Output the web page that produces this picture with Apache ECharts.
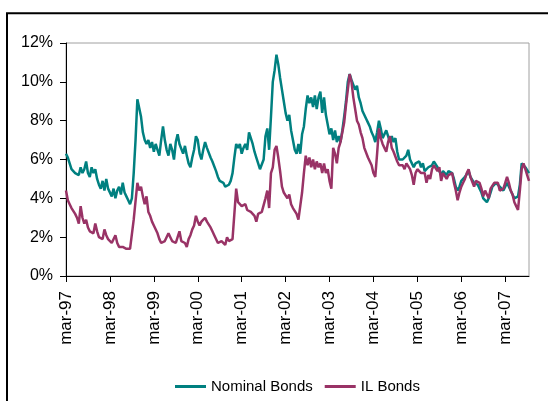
<!DOCTYPE html>
<html>
<head>
<meta charset="utf-8">
<script src="https://cdn.jsdelivr.net/npm/echarts@6/dist/echarts.min.js"></script>
<style>
  html, body { margin: 0; padding: 0; background: #fff; }
  #chart { width: 548px; height: 401px; }
</style>
</head>
<body>
<div id="chart"></div>
<script>
// Yields (%), semi-monthly observations starting March 1997
const tickLabels = ['mar-97','mar-98','mar-99','mar-00','mar-01','mar-02','mar-03','mar-04','mar-05','mar-06','mar-07'];
const seriesNames = ['Nominal Bonds', 'IL Bonds'];

const nominalBonds = [
  6.3,6.1,5.8,5.5,5.6,5.3,5.4,5.2,5.6,5.3,5.5,5.9,5.3,5.1,5.6,5.3,5.5,5.0,4.7,4.5,4.9,4.4,5.0,4.5,
  4.6,4.1,4.5,4.0,4.4,4.6,4.2,4.8,4.3,4.1,3.9,3.7,4.0,5.3,7.0,9.1,9.0,8.2,7.4,7.0,6.8,7.0,6.6,6.9,
  6.4,6.8,6.5,6.2,7.0,7.7,7.0,6.5,6.2,6.8,6.5,6.0,6.9,7.3,6.8,6.9,6.3,6.7,6.2,5.8,5.6,6.1,6.5,7.2,
  7.0,6.3,6.0,6.5,6.9,6.6,6.5,6.1,5.9,5.8,5.4,5.1,4.9,5.0,4.8,4.6,4.5,4.7,4.9,5.3,6.1,6.8,6.6,6.8,
  6.3,6.6,6.8,6.5,7.4,7.5,6.8,6.4,6.1,5.8,5.5,5.4,6.0,7.2,7.6,6.5,8.2,10.0,10.6,11.4,10.9,10.2,9.6,9.0,
  8.4,8.0,8.3,7.5,7.0,6.5,6.3,6.8,6.3,7.3,7.7,8.6,9.3,8.9,9.2,8.7,9.3,8.6,9.2,9.5,8.4,9.2,8.3,7.8,
  7.3,7.6,7.0,7.5,6.9,7.2,6.9,7.5,8.2,9.0,10.0,10.4,10.1,10.2,9.6,9.8,9.2,8.9,8.5,8.6,8.1,7.9,7.7,7.4,
  7.2,6.9,7.4,8.0,7.6,7.1,7.0,7.5,7.2,6.9,7.2,6.9,7.1,6.4,6.0,5.9,6.0,6.0,6.2,6.5,6.0,5.8,5.6,5.8,
  5.7,5.9,5.6,5.8,5.4,5.3,5.6,5.5,5.7,5.9,5.9,5.6,5.7,5.2,5.4,5.5,5.2,5.4,5.5,5.3,5.0,4.6,4.4,4.6,
  4.9,5.0,5.1,5.2,5.4,5.1,5.0,4.8,4.9,4.7,4.5,4.3,4.0,3.9,3.8,4.0,4.3,4.6,4.7,4.8,4.8,4.6,4.5,4.4,
  4.6,4.8,4.6,4.4,4.2,4.0,3.9,4.1,4.7,5.8,5.7,5.6,5.6,5.3
];

const ilBonds = [
  4.4,3.9,3.7,3.5,3.6,3.2,3.0,2.7,3.6,3.0,2.7,2.9,2.5,2.3,2.3,2.2,2.7,2.3,2.0,2.1,1.9,2.4,2.1,1.9,
  2.0,1.7,1.8,2.1,1.7,1.5,1.6,1.5,1.4,1.4,1.3,1.4,1.5,2.9,2.8,4.8,4.4,4.6,4.1,3.7,4.1,3.3,3.1,2.8,
  2.6,2.6,2.2,1.9,1.7,1.8,1.8,1.7,2.2,2.0,1.8,1.9,1.7,2.0,2.3,1.8,1.9,1.7,1.5,1.9,2.1,2.4,2.6,3.1,
  2.8,2.6,2.8,2.7,3.0,2.8,2.9,2.5,2.3,2.1,2.0,1.7,1.6,1.8,1.7,1.6,2.0,1.8,1.9,1.9,2.0,4.5,3.8,3.9,
  3.6,3.5,3.7,3.4,3.5,3.3,3.2,3.1,2.8,3.2,3.1,3.3,3.2,4.0,4.4,3.5,5.3,5.6,6.5,6.7,6.1,5.4,4.6,4.3,
  4.2,4.0,4.2,3.7,3.5,3.4,3.2,2.9,3.6,4.3,5.3,6.2,5.7,6.1,5.6,6.0,5.5,5.9,5.6,5.8,5.3,5.8,5.3,5.5,
  4.9,4.5,6.6,6.3,5.8,6.6,6.9,7.4,7.9,8.8,9.6,10.4,10.0,9.2,8.6,8.0,7.8,7.4,7.1,6.6,6.5,6.1,6.2,5.7,
  5.3,5.1,6.3,7.6,7.1,6.8,6.6,6.4,6.9,7.2,6.6,6.4,6.5,5.9,5.7,5.6,5.7,5.5,5.8,5.7,5.5,5.2,4.7,5.3,
  5.5,5.4,5.3,5.2,5.3,4.8,5.2,5.0,5.5,5.7,5.8,5.4,5.6,4.9,5.3,5.2,5.0,5.2,5.1,5.3,4.8,4.4,3.9,4.3,
  4.6,4.8,5.0,5.3,5.5,5.1,5.0,4.6,4.9,5.0,4.8,4.5,4.1,4.4,4.2,4.0,4.5,4.6,4.8,4.7,4.8,4.4,4.5,4.5,
  4.8,5.1,4.8,4.4,4.2,3.8,3.6,3.4,4.4,5.5,5.8,5.5,5.2,4.9
];

// Observation dates: the 1st and 16th of each month from March 1997
const categories = nominalBonds.map(function (_, i) {
  const m = 2 + Math.floor(i / 2);
  const y = 1997 + Math.floor(m / 12);
  const mm = String(m % 12 + 1).padStart(2, '0');
  return y + '-' + mm + (i % 2 ? '-16' : '-01');
});

const perYear = 24;
const isMarch = function (index) { return index % perYear === 0; };
const font = 'Liberation Sans, Arial, sans-serif';

const chart = echarts.init(document.getElementById('chart'), null, { renderer: 'canvas' });
chart.setOption({
  animation: false,
  backgroundColor: '#ffffff',
  textStyle: { fontFamily: font, color: '#000' },
  graphic: [{
    type: 'rect',
    silent: true,
    z: -10,
    shape: { x: 7, y: 13.3, width: 620, height: 500 },
    style: { fill: 'none', stroke: '#000', lineWidth: 2 }
  }],
  grid: {
    left: 66, right: 19, top: 43, bottom: 125,
    show: true, borderColor: '#a0a0a0', borderWidth: 1,
    containLabel: false, outerBoundsMode: 'none'
  },
  legend: {
    data: seriesNames,
    left: 175,
    top: 379,
    padding: 0,
    icon: 'rect',
    itemWidth: 31,
    itemHeight: 3,
    itemGap: 12,
    textStyle: { fontFamily: font, fontSize: 15, color: '#000' }
  },
  xAxis: {
    type: 'category',
    data: categories,
    boundaryGap: false,
    axisLine: { lineStyle: { color: '#000', width: 1 } },
    axisTick: { interval: isMarch, length: 6, lineStyle: { color: '#000' } },
    axisLabel: {
      interval: isMarch,
      rotate: 90,
      margin: 15,
      fontSize: 17,
      fontFamily: font,
      color: '#000',
      formatter: function (value, index) { return tickLabels[index / perYear]; }
    },
    splitLine: { show: false }
  },
  yAxis: {
    type: 'value',
    min: 0, max: 12, interval: 2,
    axisLine: { show: true, lineStyle: { color: '#000', width: 1 } },
    axisTick: { show: true, length: 6, lineStyle: { color: '#000' } },
    axisLabel: { formatter: '{value}%', fontSize: 16, margin: 13, fontFamily: font, color: '#000' },
    splitLine: { show: false }
  },
  series: [
    {
      name: seriesNames[0], type: 'line', data: nominalBonds,
      showSymbol: false, color: '#008080',
      lineStyle: { width: 2.5, color: '#008080' }
    },
    {
      name: seriesNames[1], type: 'line', data: ilBonds,
      showSymbol: false, color: '#993366',
      lineStyle: { width: 2.5, color: '#993366' }
    }
  ]
});
</script>
</body>
</html>
